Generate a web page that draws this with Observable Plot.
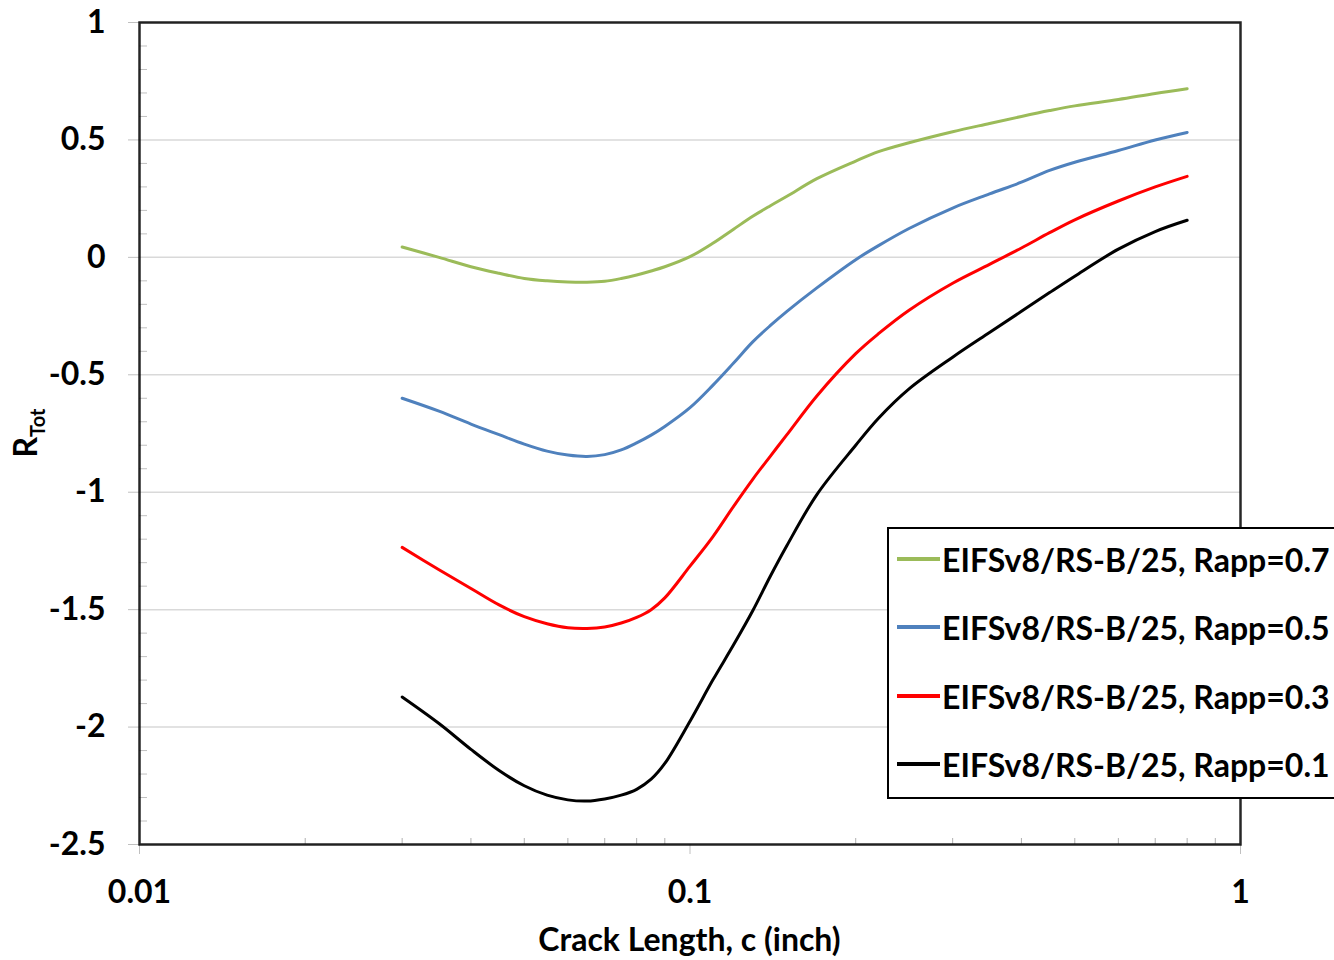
<!DOCTYPE html>
<html><head><meta charset="utf-8">
<script src="https://cdn.jsdelivr.net/npm/d3@7"></script>
<script src="https://cdn.jsdelivr.net/npm/@observablehq/plot@0.6"></script>
<style>
html,body{margin:0;padding:0;background:#fff;overflow:hidden;}
#wrap{position:relative;width:1334px;height:960px;overflow:hidden;font-family:Lato,sans-serif;font-weight:bold;}
#legend{position:absolute;left:887px;top:527px;width:480px;height:268px;border:2.5px solid #000;background:#fff;}
.row{position:absolute;left:8px;height:40px;display:flex;align-items:center;font-size:32px;white-space:nowrap;color:#000;}
.sw{width:43px;height:3.5px;margin-right:2px;}
</style></head><body><div id="wrap"><div id="legend"></div></div>
<script>
// Crack length, c (inch)
const crackLength = [0.03, 0.035, 0.04, 0.045, 0.05, 0.055, 0.06, 0.065, 0.07, 0.075, 0.08, 0.085, 0.09, 0.1, 0.11, 0.12, 0.13, 0.14, 0.15, 0.17, 0.2, 0.22, 0.25, 0.3, 0.35, 0.4, 0.45, 0.5, 0.6, 0.7, 0.8];
// R_Tot for each series
const rapp07 = [0.044, 0.0, -0.04, -0.068, -0.09, -0.1, -0.105, -0.106, -0.102, -0.09, -0.075, -0.058, -0.04, 0.003, 0.06, 0.12, 0.175, 0.22, 0.26, 0.335, 0.41, 0.45, 0.488, 0.535, 0.57, 0.6, 0.625, 0.645, 0.672, 0.698, 0.718];
const rapp05 = [-0.6, -0.655, -0.71, -0.755, -0.795, -0.825, -0.842, -0.848, -0.84, -0.82, -0.79, -0.757, -0.72, -0.64, -0.545, -0.45, -0.36, -0.29, -0.23, -0.13, -0.01, 0.05, 0.123, 0.21, 0.27, 0.32, 0.37, 0.405, 0.455, 0.5, 0.532];
const rapp03 = [-1.235, -1.33, -1.41, -1.48, -1.53, -1.56, -1.577, -1.58, -1.574, -1.557, -1.533, -1.5, -1.45, -1.315, -1.19, -1.06, -0.945, -0.846, -0.755, -0.59, -0.41, -0.325, -0.225, -0.11, -0.03, 0.04, 0.105, 0.16, 0.24, 0.3, 0.345];
const rapp01 = [-1.872, -1.985, -2.095, -2.185, -2.25, -2.29, -2.31, -2.315, -2.306, -2.29, -2.265, -2.222, -2.155, -1.975, -1.8, -1.65, -1.505, -1.357, -1.227, -1.01, -0.8, -0.685, -0.56, -0.425, -0.32, -0.23, -0.15, -0.08, 0.035, 0.11, 0.158];
const seriesNames = ["EIFSv8/RS-B/25, Rapp=0.7", "EIFSv8/RS-B/25, Rapp=0.5", "EIFSv8/RS-B/25, Rapp=0.3", "EIFSv8/RS-B/25, Rapp=0.1"];
const seriesColors = ["#9BBB59", "#4F81BD", "#FF0000", "#000000"];
const yMajorTicks = [-2.5, -2, -1.5, -1, -0.5, 0, 0.5, 1];
const yMinorTicks = d3.range(-24, 10).map(i => i / 10).filter(v => Math.abs(Math.round(v * 10) % 5) !== 0);
const xMajorTicks = [0.01, 0.1, 1];
const xMinorTicks = [2,3,4,5,6,7,8,9].flatMap(k => [k * 0.01, k * 0.1]);

const allValues = [rapp07, rapp05, rapp03, rapp01];
const data = [];
seriesNames.forEach((s, i) => crackLength.forEach((c, j) => data.push({c, r: allValues[i][j], s})));

const plot = Plot.plot({
  width: 1334, height: 960,
  marginTop: 22, marginBottom: 116, marginLeft: 139, marginRight: 94,
  x: {type: "log", domain: [0.01, 1]},
  y: {domain: [-2.5, 1]},
  color: {domain: seriesNames, range: seriesColors},
  style: {fontFamily: "Lato, sans-serif", fontSize: "32px", fontWeight: "bold", color: "#000", background: "#fff", overflow: "visible"},
  marks: [
    Plot.gridY(yMajorTicks, {stroke: "#d9d9d9", strokeOpacity: 1, strokeWidth: 1.5}),
    Plot.axisY(yMajorTicks, {tickSize: 11, tickPadding: 23, stroke: "#c0c0c0", fill: "#000", tickFormat: d => String(d), label: null}),
    Plot.axisY(yMinorTicks, {tickSize: -8, stroke: "#c0c0c0", tickFormat: () => "", label: null}),
    Plot.axisX(xMajorTicks, {tickSize: 10, tickPadding: 26, stroke: "#c0c0c0", fill: "#000", tickFormat: d => String(d), label: null}),
    Plot.axisX(xMinorTicks, {tickSize: -6, stroke: "#b0b0b0", tickFormat: () => "", label: null}),
    Plot.line(data, {x: "c", y: "r", stroke: "s", strokeWidth: 3, curve: "catmull-rom"}),
    Plot.frame({stroke: "#000", strokeWidth: 2.5, strokeOpacity: 0.85})
  ]
});

const svg = d3.select(plot);
svg.append("text").attr("x", 689.5).attr("y", 951).attr("text-anchor", "middle").attr("fill", "#000")
  .text("Crack Length, c (inch)");
const yt = svg.append("text").attr("transform", "translate(37,433) rotate(-90)").attr("text-anchor", "middle").attr("fill", "#000");
yt.append("tspan").text("R");
yt.append("tspan").attr("dy", 8).attr("font-size", 20).text("Tot");

const wrap = document.getElementById("wrap");
plot.style.position = "absolute"; plot.style.left = "0"; plot.style.top = "0";
wrap.insertBefore(plot, wrap.firstChild);

const legend = document.getElementById("legend");
const rowTops = [10, 78, 147, 215];
seriesNames.forEach((s, i) => {
  const row = document.createElement("div");
  row.className = "row";
  row.style.top = rowTops[i] + "px";
  const sw = document.createElement("div");
  sw.className = "sw"; sw.style.background = seriesColors[i];
  const t = document.createElement("span"); t.textContent = s;
  row.appendChild(sw); row.appendChild(t);
  legend.appendChild(row);
});
</script></body></html>
